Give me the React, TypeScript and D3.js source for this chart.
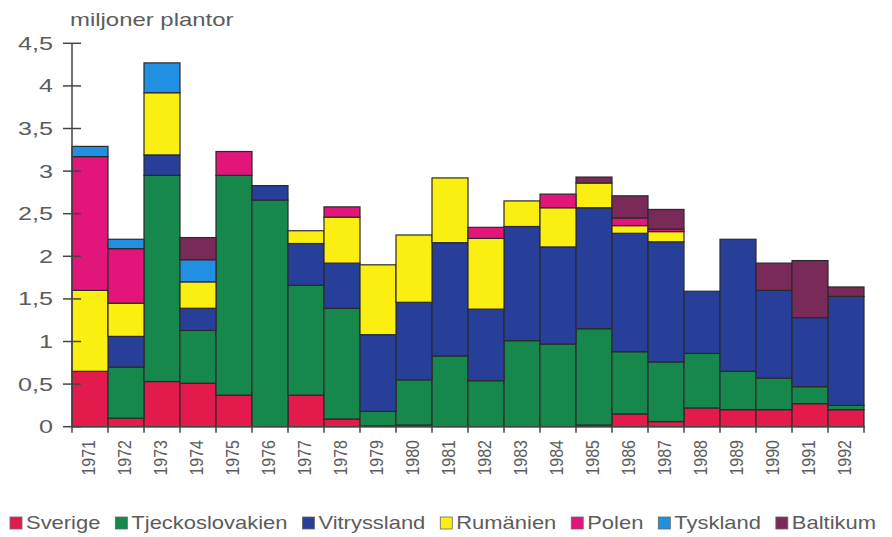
import React, { useEffect, useRef } from 'react';
import * as d3 from 'd3';

// plantimport per år, miljoner plantor
const years = ['1971', '1972', '1973', '1974', '1975', '1976', '1977', '1978', '1979', '1980', '1981',
  '1982', '1983', '1984', '1985', '1986', '1987', '1988', '1989', '1990', '1991', '1992'];

const sverige = [0.65, 0.1, 0.53, 0.51, 0.37, 0, 0.37, 0.09, 0.01, 0.02, 0, 0, 0, 0, 0.02, 0.15, 0.06, 0.22, 0.2, 0.2, 0.27, 0.2];
const tjeckoslovakien = [0, 0.6, 2.42, 0.62, 2.58, 2.66, 1.29, 1.3, 0.17, 0.53, 0.83, 0.54, 1.01, 0.97, 1.13, 0.73, 0.7, 0.64, 0.45, 0.37, 0.2, 0.05];
const vitryssland = [0, 0.36, 0.24, 0.26, 0, 0.17, 0.49, 0.53, 0.9, 0.91, 1.33, 0.84, 1.34, 1.14, 1.42, 1.39, 1.41, 0.73, 1.55, 1.03, 0.81, 1.28];
const rumanien = [0.95, 0.39, 0.73, 0.31, 0, 0, 0.15, 0.54, 0.82, 0.79, 0.76, 0.83, 0.3, 0.46, 0.29, 0.09, 0.12, 0, 0, 0, 0, 0];
const polen = [1.57, 0.64, 0, 0, 0.28, 0, 0, 0.12, 0, 0, 0, 0.13, 0, 0.16, 0, 0.09, 0.03, 0, 0, 0, 0, 0];
const tyskland = [0.12, 0.11, 0.35, 0.26, 0, 0, 0, 0, 0, 0, 0, 0, 0, 0, 0, 0, 0, 0, 0, 0, 0, 0];
const baltikum = [0, 0, 0, 0.26, 0, 0, 0, 0, 0, 0, 0, 0, 0, 0, 0.07, 0.26, 0.23, 0, 0, 0.32, 0.67, 0.11];

const seriesNames = ['Sverige', 'Tjeckoslovakien', 'Vitryssland', 'Rumänien', 'Polen', 'Tyskland', 'Baltikum'];
const seriesValues = [sverige, tjeckoslovakien, vitryssland, rumanien, polen, tyskland, baltikum];
const seriesColors = ['#e31a4c', '#16884b', '#273f98', '#fbef12', '#e2167a', '#2190e2', '#7a2a58'];

const yTicks = [0, 0.5, 1, 1.5, 2, 2.5, 3, 3.5, 4, 4.5];

const W = 892;
const H = 537;
const TXT = '#5c5c5c';
const STRETCH = 1.22; // originalet är lite utdraget på bredden

export default function App() {
  const svgRef = useRef<SVGSVGElement>(null);

  useEffect(() => {
    const svg = d3.select(svgRef.current);
    svg.selectAll('*').remove();

    const rows = years.map((yr, i) => {
      const r: any = { year: yr };
      seriesNames.forEach((n, k) => (r[n] = seriesValues[k][i]));
      return r;
    });
    const stack = d3.stack().keys(seriesNames)(rows);

    const x = d3.scaleBand().domain(years).range([72, 864]).padding(0);
    const y = d3.scaleLinear().domain([0, 4.5]).range([426.7, 43.3]);
    const color = d3.scaleOrdinal<string, string>().domain(seriesNames).range(seriesColors);

    const font = 'Liberation Sans, Arial, sans-serif';

    // staplar
    svg.append('g')
      .selectAll('g')
      .data(stack)
      .join('g')
      .attr('fill', (d) => color(d.key))
      .selectAll('rect')
      .data((d) => d.filter((p) => p[1] - p[0] > 0.001))
      .join('rect')
      .attr('x', (d: any) => x(d.data.year)!)
      .attr('width', x.bandwidth())
      .attr('y', (d) => y(d[1]))
      .attr('height', (d) => y(d[0]) - y(d[1]))
      .attr('stroke', '#2a2a2a')
      .attr('stroke-width', 1.2);

    // y-axel
    const ax = svg.append('g').attr('stroke', '#444').attr('stroke-width', 1.5);
    ax.append('line').attr('x1', 72).attr('x2', 72).attr('y1', y(4.5)).attr('y2', y(0));
    ax.selectAll('line.t')
      .data(yTicks)
      .join('line')
      .attr('class', 't')
      .attr('x1', 63)
      .attr('x2', 81)
      .attr('y1', (d) => y(d))
      .attr('y2', (d) => y(d));

    svg.append('g')
      .selectAll('text')
      .data(yTicks)
      .join('text')
      .attr('transform', (d) => `translate(53,${y(d) + 6.5}) scale(1.4,1)`)
      .attr('text-anchor', 'end')
      .attr('font-family', font)
      .attr('font-size', 18)
      .attr('fill', TXT)
      .text((d) => String(d).replace('.', ','));

    // x-axel
    ax.append('line').attr('x1', 72).attr('x2', 865).attr('y1', y(0)).attr('y2', y(0));
    ax.selectAll('line.xt')
      .data(d3.range(years.length + 1))
      .join('line')
      .attr('class', 'xt')
      .attr('x1', (i) => 72 + i * x.step())
      .attr('x2', (i) => 72 + i * x.step())
      .attr('y1', y(0))
      .attr('y2', y(0) + 6);

    svg.append('g')
      .selectAll('text')
      .data(years)
      .join('text')
      .attr('transform', (d) => `translate(${x(d)! + x.bandwidth() / 2 + 5},440) rotate(-90) scale(1,1.1)`)
      .attr('text-anchor', 'end')
      .attr('font-family', font)
      .attr('font-size', 16)
      .attr('fill', TXT)
      .text((d) => d);

    // enhet
    svg.append('text')
      .attr('transform', `translate(70,26) scale(1.33,1)`)
      .attr('font-family', font)
      .attr('font-size', 18)
      .attr('fill', TXT)
      .text('miljoner plantor');

    // förklaring, utspridd mellan x=10 och x=876
    const lg = svg.append('g');
    const items = seriesNames.map((n) => {
      const g = lg.append('g');
      g.append('rect').attr('width', 12).attr('height', 12).attr('y', -12)
        .attr('fill', color(n)).attr('stroke', '#666').attr('stroke-width', 0.8);
      const t = g.append('text')
        .attr('transform', `translate(16,0) scale(${STRETCH},1)`)
        .attr('font-family', font)
        .attr('font-size', 18)
        .attr('fill', TXT)
        .text(n);
      const w = 16 + (t.node() as SVGTextElement).getComputedTextLength() * STRETCH;
      return { g, w };
    });
    const total = d3.sum(items, (d) => d.w);
    const gap = (876 - 10 - total) / (items.length - 1);
    let cx = 10;
    items.forEach((it) => {
      it.g.attr('transform', `translate(${cx},529)`);
      cx += it.w + gap;
    });
  }, []);

  return (
    <div style={{ position: 'absolute', left: 0, top: 0, background: '#fff' }}>
      <svg ref={svgRef} width={W} height={H} />
    </div>
  );
}
